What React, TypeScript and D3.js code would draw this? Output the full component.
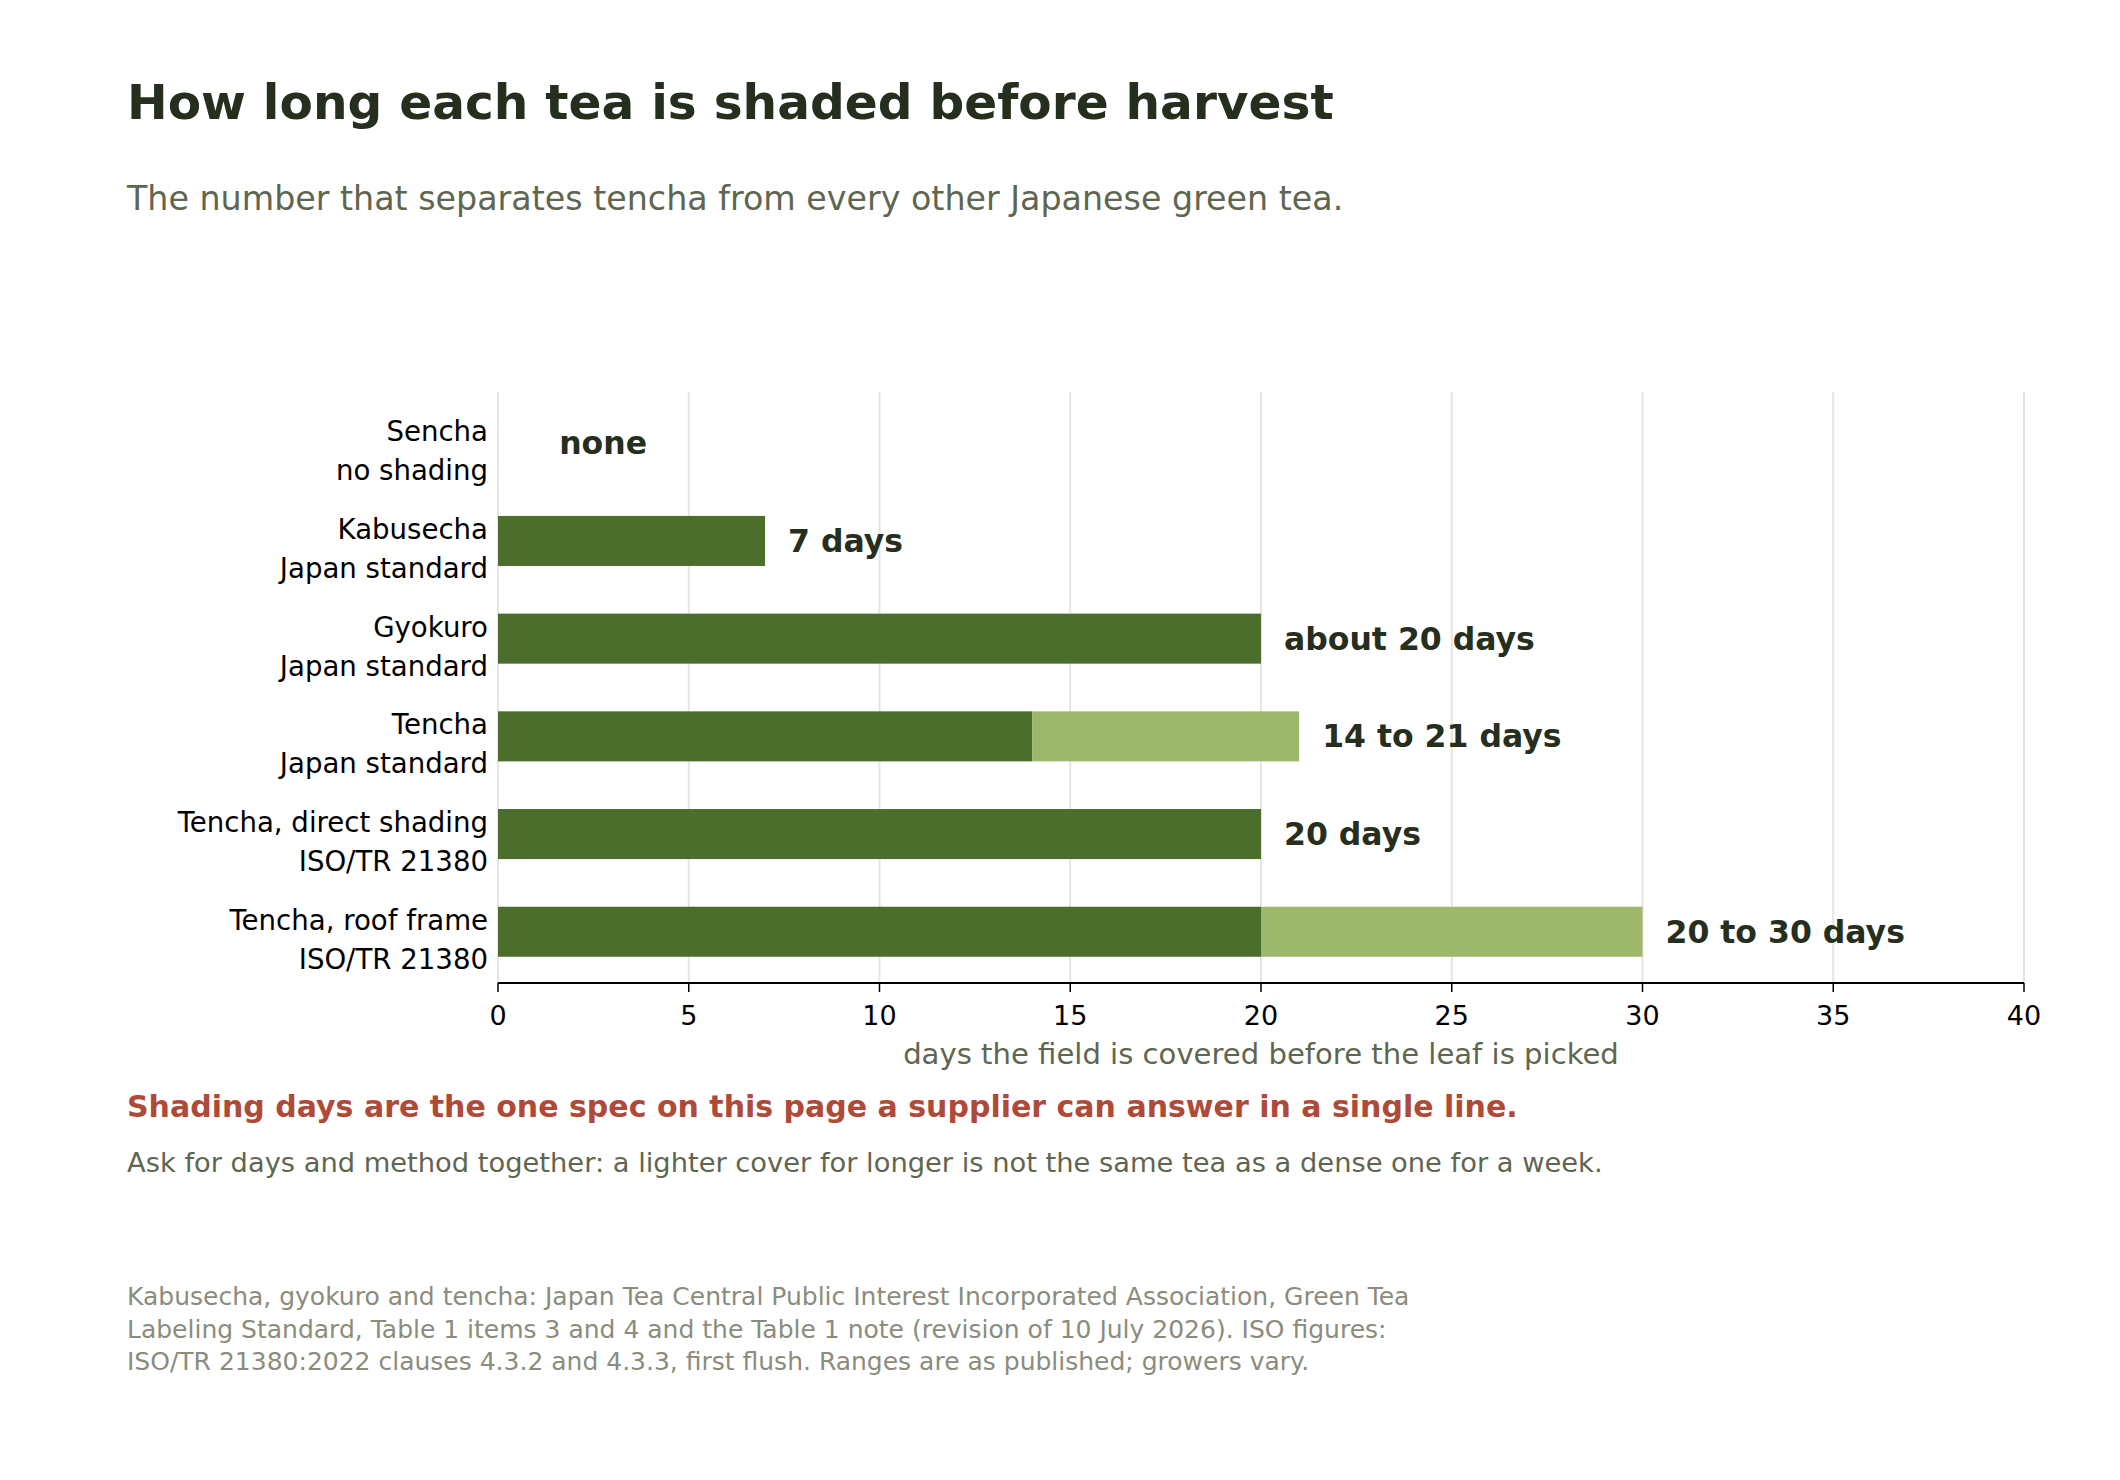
import React from "react";
import * as d3 from "d3";

const categories = [
  "Sencha|no shading",
  "Kabusecha|Japan standard",
  "Gyokuro|Japan standard",
  "Tencha|Japan standard",
  "Tencha, direct shading|ISO/TR 21380",
  "Tencha, roof frame|ISO/TR 21380",
];
const minDays = [0, 7, 20, 14, 20, 20];
const maxDays = [0, 7, 20, 21, 20, 30];
const valueLabels = ["none", "7 days", "about 20 days", "14 to 21 days", "20 days", "20 to 30 days"];
const xTicks = [0, 5, 10, 15, 20, 25, 30, 35, 40];

const title = "How long each tea is shaded before harvest";
const subtitle = "The number that separates tencha from every other Japanese green tea.";
const xTitle = "days the field is covered before the leaf is picked";
const takeaway = "Shading days are the one spec on this page a supplier can answer in a single line.";
const explanation =
  "Ask for days and method together: a lighter cover for longer is not the same tea as a dense one for a week.";
const footnote = [
  "Kabusecha, gyokuro and tencha: Japan Tea Central Public Interest Incorporated Association, Green Tea",
  "Labeling Standard, Table 1 items 3 and 4 and the Table 1 note (revision of 10 July 2026). ISO figures:",
  "ISO/TR 21380:2022 clauses 4.3.2 and 4.3.3, first flush. Ranges are as published; growers vary.",
];

const W = 2120;
const H = 1480;
const FONT = "'DejaVu Sans', sans-serif";
const DARK = "#4c6e2c";
const LIGHT = "#9db86c";
const INK = "#262e1e";

export default function App() {
  const left = 498;
  const right = 2024;
  const top = 392;
  const bottom = 983;

  const x = d3.scaleLinear().domain([0, 40]).range([left, right]);
  const y = d3
    .scaleBand<string>()
    .domain(categories)
    .range([top, bottom])
    .paddingInner(0.488)
    .paddingOuter(0.2685);
  const bw = y.bandwidth();

  return (
    <svg
      width={W}
      height={H}
      viewBox={`0 0 ${W} ${H}`}
      style={{ position: "absolute", left: 0, top: 0, background: "#fff" }}
      fontFamily={FONT}
    >
      <rect x={0} y={0} width={W} height={H} fill="#fff" />
      <text x={127} y={119} fontSize={48.6} fontWeight="bold" fill={INK}>
        {title}
      </text>
      <text x={127} y={210} fontSize={33.3} fill="#5f6650">
        {subtitle}
      </text>

      {/* gridlines */}
      {xTicks.map((t) => (
        <line key={"g" + t} x1={x(t)} x2={x(t)} y1={top} y2={bottom} stroke="#e6e6de" strokeWidth={2} />
      ))}

      {/* bars */}
      {categories.map((c, i) => {
        const y0 = y(c)!;
        return (
          <g key={c}>
            {minDays[i] > 0 && (
              <rect x={x(0)} y={y0} width={x(minDays[i]) - x(0)} height={bw} fill={DARK} />
            )}
            {maxDays[i] > minDays[i] && (
              <rect x={x(minDays[i])} y={y0} width={x(maxDays[i]) - x(minDays[i])} height={bw} fill={LIGHT} />
            )}
            <text
              x={x(Math.max(maxDays[i], 1)) + 23}
              y={y0 + bw / 2}
              dominantBaseline="central"
              fontSize={31.5}
              fontWeight="bold"
              fill={INK}
            >
              {valueLabels[i]}
            </text>
            {c.split("|").map((line, j) => (
              <text
                key={j}
                x={left - 10}
                y={y0 + bw / 2 + (j === 0 ? -11.5 : 27.5)}
                dominantBaseline="central"
                textAnchor="end"
                fontSize={27.6}
                fill="#000"
              >
                {line}
              </text>
            ))}
          </g>
        );
      })}

      {/* x axis */}
      <line x1={left} x2={right} y1={bottom} y2={bottom} stroke="#000" strokeWidth={2} />
      {xTicks.map((t) => (
        <g key={"t" + t}>
          <line x1={x(t)} x2={x(t)} y1={bottom} y2={bottom + 9} stroke="#000" strokeWidth={1.5} />
          <text x={x(t)} y={1025} textAnchor="middle" fontSize={27} fill="#000">
            {t}
          </text>
        </g>
      ))}
      <text x={(left + right) / 2} y={1064} textAnchor="middle" fontSize={29.1} fill="#5f6650">
        {xTitle}
      </text>

      <text x={127} y={1117} fontSize={30} fontWeight="bold" fill="#b04a38">
        {takeaway}
      </text>
      <text x={127} y={1172} fontSize={27.3} fill="#5f6650">
        {explanation}
      </text>
      {footnote.map((l, i) => (
        <text key={i} x={127} y={1305 + i * 32.5} fontSize={25} fill="#8b8c7c">
          {l}
        </text>
      ))}
    </svg>
  );
}
